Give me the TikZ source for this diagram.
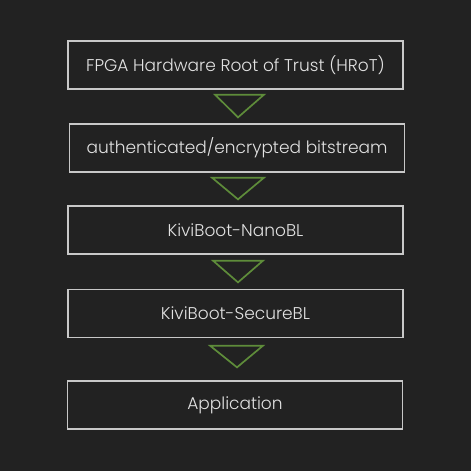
\documentclass[tikz,border=0pt]{standalone}
\usepackage{fontspec}
\setmainfont{Poppins}[UprightFont=* Light]
\usetikzlibrary{calc}
\definecolor{bgdark}{HTML}{222222}
\definecolor{boxline}{HTML}{C8C8C8}
\definecolor{boxtext}{HTML}{E2E2E2}
\definecolor{arrowgreen}{HTML}{5E8C3A}
\tikzset{
  stage/.style={draw=boxline, line width=1.3pt, minimum width=335pt, minimum height=48pt,
    inner sep=0pt, text=boxtext, font=\fontsize{17}{20}\selectfont},
  flowtri/.style={draw=arrowgreen, line width=1.7pt, line join=miter}
}
\begin{document}
\begin{tikzpicture}[y=-1pt, x=1pt]
    \fill[bgdark] (0,0) rectangle (471,471);
    \useasboundingbox (0,0) rectangle (471,471);

    \node[stage] (hrot) at (235.5,65) {FPGA Hardware Root of Trust (HRoT)};
    \node[stage] (bits) at (237,148) {authenticated/encrypted bitstream};
    \node[stage] (nano) at (235.5,230) {KiviBoot-NanoBL};
    \node[stage] (secure) at (235.5,313.5) {KiviBoot-SecureBL};
    \node[stage] (app) at (235,405) {Application};

    % green triangles between stages
    \draw[flowtri] ($(hrot.south)+(-20.5,5)$) -- ++(49,0) -- ($(bits.north)+(1,-6)$) -- cycle;
    \draw[flowtri] ($(bits.south)+(-25,5)$) -- ++(52,0) -- ($(nano.north)+(2.5,-6)$) -- cycle;
    \draw[flowtri] ($(nano.south)+(-22.5,6)$) -- ++(50,0) -- ($(secure.north)+(2.5,-6.5)$) -- cycle;
    \draw[flowtri] ($(secure.south)+(-25.5,7.5)$) -- ++(53,0) -- ($(app.north)+(2,-13)$) -- cycle;

  \end{tikzpicture}
\end{document}
